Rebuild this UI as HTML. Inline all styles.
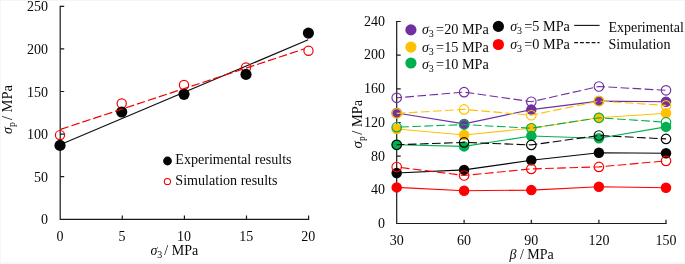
<!DOCTYPE html>
<html><head><meta charset="utf-8"><title>chart</title>
<style>
html,body{margin:0;padding:0;background:#fff;}
body{width:685px;height:264px;overflow:hidden;}
svg{display:block;}
text{font-family:"Liberation Serif","DejaVu Serif",serif;font-size:14px;fill:#0a0a0a;}
.i{font-style:italic;}
.sub{font-size:10px;}
.ax{stroke:#1a1a1a;stroke-width:1.2;fill:none;}
</style></head><body>
<svg width="685" height="264" viewBox="0 0 685 264">
<rect x="0" y="0" width="685" height="264" fill="#ffffff"/>
<path d="M0 0.5H685" stroke="#f5f5f5" stroke-width="1"/><path d="M0.5 0V264" stroke="#f7f7f7" stroke-width="1"/><path d="M684.5 0V264" stroke="#fafafa" stroke-width="1"/><path d="M0 263H685" stroke="#f7f7f7" stroke-width="2"/>

<g id="left">
<path class="ax" d="M60.2 5.7V219.3H309.2"/>
<path class="ax" d="M60.2 176.7h4M60.2 134.1h4M60.2 91.5h4M60.2 48.9h4M60.2 6.3h4M122.3 219.3v-3.8M184.4 219.3v-3.8M246.5 219.3v-3.8M308.6 219.3v-3.8"/>
<text x="48" y="224.4" text-anchor="end">0</text>
<text x="48" y="181.78" text-anchor="end">50</text>
<text x="48" y="139.16" text-anchor="end">100</text>
<text x="48" y="96.54" text-anchor="end">150</text>
<text x="48" y="53.92" text-anchor="end">200</text>
<text x="48" y="11.3" text-anchor="end">250</text>
<text x="59.9" y="240.9" text-anchor="middle">0</text>
<text x="122" y="240.9" text-anchor="middle">5</text>
<text x="184.1" y="240.9" text-anchor="middle">10</text>
<text x="246.2" y="240.9" text-anchor="middle">15</text>
<text x="308.3" y="240.9" text-anchor="middle">20</text>
<text y="254.5"><tspan class="i" x="150.6">σ</tspan><tspan class="sub" x="157.3" dy="3">3</tspan><tspan x="164.3" dy="-3">/ MPa</tspan></text>
<text transform="translate(11.6,134) rotate(-90)"><tspan class="i" x="0">σ</tspan><tspan class="sub" x="6.9" dy="3">p</tspan><tspan x="13.9" dy="-3" style="font-size:14.5px">/ MPa</tspan></text>
<path d="M60 144.8L308.2 39.8" stroke="#111" stroke-width="1.2" fill="none"/>
<circle cx="60" cy="135.1" r="4.6" fill="none" stroke="#f00000" stroke-width="1.2"/>
<circle cx="121.7" cy="103.5" r="4.6" fill="none" stroke="#f00000" stroke-width="1.2"/>
<circle cx="184" cy="85" r="4.6" fill="none" stroke="#f00000" stroke-width="1.2"/>
<circle cx="246" cy="67.4" r="4.6" fill="none" stroke="#f00000" stroke-width="1.2"/>
<circle cx="308.5" cy="50.8" r="4.6" fill="none" stroke="#f00000" stroke-width="1.2"/>
<circle cx="60" cy="145.4" r="5.6" fill="#050505"/>
<circle cx="121.7" cy="112" r="5.6" fill="#050505"/>
<circle cx="184" cy="94.3" r="5.6" fill="#050505"/>
<circle cx="246" cy="74.4" r="5.6" fill="#050505"/>
<circle cx="308.4" cy="33.1" r="5.6" fill="#050505"/>
<path d="M60.5 129.4L304.5 48.8" stroke="#f00000" stroke-width="1.2" stroke-dasharray="8.5 3" fill="none"/>
<circle cx="167.5" cy="161" r="4.4" fill="#050505"/>
<circle cx="167.4" cy="181.5" r="3.1" fill="none" stroke="#f00000" stroke-width="1.05"/>
<text x="175.3" y="164.1" style="font-size:14.1px">Experimental results</text>
<text x="175.3" y="185.2" style="font-size:14.1px">Simulation results</text>
</g>
<g id="right">
<path class="ax" d="M396.7 20.9V223.5H666.6"/>
<path class="ax" d="M396.7 189.83h4M396.7 156.17h4M396.7 122.5h4M396.7 88.83h4M396.7 55.17h4M396.7 21.5h4M464.1 223.5v-3.8M531.3 223.5v-3.8M598.9 223.5v-3.8M666 223.5v-3.8"/>
<text x="384.9" y="228.1" text-anchor="end">0</text>
<text x="384.9" y="194.35" text-anchor="end">40</text>
<text x="384.9" y="160.6" text-anchor="end">80</text>
<text x="384.9" y="126.85" text-anchor="end">120</text>
<text x="384.9" y="93.1" text-anchor="end">160</text>
<text x="384.9" y="59.35" text-anchor="end">200</text>
<text x="384.9" y="25.6" text-anchor="end">240</text>
<text x="396.7" y="244.7" text-anchor="middle">30</text>
<text x="464.1" y="244.7" text-anchor="middle">60</text>
<text x="531.3" y="244.7" text-anchor="middle">90</text>
<text x="598.9" y="244.7" text-anchor="middle">120</text>
<text x="666" y="244.7" text-anchor="middle">150</text>
<text x="509.5" y="258.8"><tspan class="i">β</tspan> / MPa</text>
<text transform="translate(362.3,148.6) rotate(-90)"><tspan class="i" x="0" style="font-size:15px">σ</tspan><tspan class="sub" x="7.6" dy="3" style="font-size:9.5px">p</tspan><tspan x="13.9" dy="-3" style="font-size:14.4px">/ MPa</tspan></text>
<path d="M396.7 113L464.1 123.9L531.3 109.6L598.9 101.1L666 101.7" stroke="#7030a0" stroke-width="1.1" fill="none"/>
<circle cx="396.7" cy="113" r="5.25" fill="#7030a0"/>
<circle cx="464.1" cy="123.9" r="5.25" fill="#7030a0"/>
<circle cx="531.3" cy="109.6" r="5.25" fill="#7030a0"/>
<circle cx="598.9" cy="101.1" r="5.25" fill="#7030a0"/>
<circle cx="666" cy="101.7" r="5.25" fill="#7030a0"/>
<path d="M396.7 129L464.1 135L531.3 128.2L598.9 117.8L666 113.3" stroke="#ffc000" stroke-width="1.1" fill="none"/>
<circle cx="396.7" cy="129" r="5.25" fill="#ffc000"/>
<circle cx="464.1" cy="135" r="5.25" fill="#ffc000"/>
<circle cx="531.3" cy="128.2" r="5.25" fill="#ffc000"/>
<circle cx="598.9" cy="117.8" r="5.25" fill="#ffc000"/>
<circle cx="666" cy="113.3" r="5.25" fill="#ffc000"/>
<path d="M396.7 144.8L464.1 146.4L531.3 136L598.9 138.3L666 126.9" stroke="#00b050" stroke-width="1.1" fill="none"/>
<circle cx="396.7" cy="144.8" r="5.25" fill="#00b050"/>
<circle cx="464.1" cy="146.4" r="5.25" fill="#00b050"/>
<circle cx="531.3" cy="136" r="5.25" fill="#00b050"/>
<circle cx="598.9" cy="138.3" r="5.25" fill="#00b050"/>
<circle cx="666" cy="126.9" r="5.25" fill="#00b050"/>
<path d="M396.7 173L464.1 169.9L531.3 160.3L598.9 152.7L666 153.3" stroke="#050505" stroke-width="1.1" fill="none"/>
<circle cx="396.7" cy="173" r="5.25" fill="#050505"/>
<circle cx="464.1" cy="169.9" r="5.25" fill="#050505"/>
<circle cx="531.3" cy="160.3" r="5.25" fill="#050505"/>
<circle cx="598.9" cy="152.7" r="5.25" fill="#050505"/>
<circle cx="666" cy="153.3" r="5.25" fill="#050505"/>
<path d="M396.7 187.4L464.1 190.8L531.3 190.1L598.9 186.8L666 187.8" stroke="#ff0000" stroke-width="1.1" fill="none"/>
<circle cx="396.7" cy="187.4" r="5.25" fill="#ff0000"/>
<circle cx="464.1" cy="190.8" r="5.25" fill="#ff0000"/>
<circle cx="531.3" cy="190.1" r="5.25" fill="#ff0000"/>
<circle cx="598.9" cy="186.8" r="5.25" fill="#ff0000"/>
<circle cx="666" cy="187.8" r="5.25" fill="#ff0000"/>
<path d="M396.7 97.8L464.1 92.15L531.3 101.7L598.9 86.5L666 90.3" stroke="#7030a0" stroke-width="1.1" stroke-dasharray="8.7 3.4" stroke-dashoffset="3.5" fill="none"/>
<circle cx="396.7" cy="97.8" r="4.75" fill="none" stroke="#7030a0" stroke-width="1.15"/>
<circle cx="464.1" cy="92.15" r="4.75" fill="none" stroke="#7030a0" stroke-width="1.15"/>
<circle cx="531.3" cy="101.7" r="4.75" fill="none" stroke="#7030a0" stroke-width="1.15"/>
<circle cx="598.9" cy="86.5" r="4.75" fill="none" stroke="#7030a0" stroke-width="1.15"/>
<circle cx="666" cy="90.3" r="4.75" fill="none" stroke="#7030a0" stroke-width="1.15"/>
<path d="M396.7 113.4L464.1 109.4L531.3 115.2L598.9 101.1L666 105.4" stroke="#ffc000" stroke-width="1.1" stroke-dasharray="8.7 3.4" stroke-dashoffset="0" fill="none"/>
<circle cx="396.7" cy="113.4" r="4.75" fill="none" stroke="#ffc000" stroke-width="1.15"/>
<circle cx="464.1" cy="109.4" r="4.75" fill="none" stroke="#ffc000" stroke-width="1.15"/>
<circle cx="531.3" cy="115.2" r="4.75" fill="none" stroke="#ffc000" stroke-width="1.15"/>
<circle cx="598.9" cy="101.1" r="4.75" fill="none" stroke="#ffc000" stroke-width="1.15"/>
<circle cx="666" cy="105.4" r="4.75" fill="none" stroke="#ffc000" stroke-width="1.15"/>
<path d="M396.7 127.15L464.1 124.6L531.3 128.2L598.9 117.8L666 122.2" stroke="#00b050" stroke-width="1.1" stroke-dasharray="8.7 3.4" stroke-dashoffset="-3.5" fill="none"/>
<circle cx="396.7" cy="127.15" r="4.75" fill="none" stroke="#00b050" stroke-width="1.15"/>
<circle cx="464.1" cy="124.6" r="4.75" fill="none" stroke="#00b050" stroke-width="1.15"/>
<circle cx="531.3" cy="128.2" r="4.75" fill="none" stroke="#00b050" stroke-width="1.15"/>
<circle cx="598.9" cy="117.8" r="4.75" fill="none" stroke="#00b050" stroke-width="1.15"/>
<circle cx="666" cy="122.2" r="4.75" fill="none" stroke="#00b050" stroke-width="1.15"/>
<path d="M396.7 144.8L464.1 142.4L531.3 144.9L598.9 135.5L666 138.9" stroke="#050505" stroke-width="1.1" stroke-dasharray="8.7 3.4" stroke-dashoffset="1" fill="none"/>
<circle cx="396.7" cy="144.8" r="4.75" fill="none" stroke="#050505" stroke-width="1.15"/>
<circle cx="464.1" cy="142.4" r="4.75" fill="none" stroke="#050505" stroke-width="1.15"/>
<circle cx="531.3" cy="144.9" r="4.75" fill="none" stroke="#050505" stroke-width="1.15"/>
<circle cx="598.9" cy="135.5" r="4.75" fill="none" stroke="#050505" stroke-width="1.15"/>
<circle cx="666" cy="138.9" r="4.75" fill="none" stroke="#050505" stroke-width="1.15"/>
<path d="M396.7 167L464.1 175.5L531.3 168.9L598.9 166.9L666 160.9" stroke="#ff0000" stroke-width="1.1" stroke-dasharray="8.7 3.4" stroke-dashoffset="-4.1" fill="none"/>
<circle cx="396.7" cy="167" r="4.75" fill="none" stroke="#ff0000" stroke-width="1.15"/>
<circle cx="464.1" cy="175.5" r="4.75" fill="none" stroke="#ff0000" stroke-width="1.15"/>
<circle cx="531.3" cy="168.9" r="4.75" fill="none" stroke="#ff0000" stroke-width="1.15"/>
<circle cx="598.9" cy="166.9" r="4.75" fill="none" stroke="#ff0000" stroke-width="1.15"/>
<circle cx="666" cy="160.9" r="4.75" fill="none" stroke="#ff0000" stroke-width="1.15"/>
<circle cx="410.9" cy="29.9" r="5.6" fill="#7030a0"/>
<circle cx="410.9" cy="47.1" r="5.6" fill="#ffc000"/>
<circle cx="410.9" cy="63" r="5.6" fill="#00b050"/>
<circle cx="498.4" cy="26.4" r="5.6" fill="#050505"/>
<circle cx="498.4" cy="44.5" r="5.6" fill="#ff0000"/>
<text y="34.3"><tspan class="i" x="422.1">σ</tspan><tspan class="sub" x="428.8" dy="3">3</tspan><tspan x="436.1" dy="-3" style="font-size:14.25px">=20 MPa</tspan></text>
<text y="51.8"><tspan class="i" x="422.1">σ</tspan><tspan class="sub" x="428.8" dy="3">3</tspan><tspan x="436.1" dy="-3" style="font-size:14.25px">=15 MPa</tspan></text>
<text y="69.1"><tspan class="i" x="422.1">σ</tspan><tspan class="sub" x="428.8" dy="3">3</tspan><tspan x="436.1" dy="-3" style="font-size:14.25px">=10 MPa</tspan></text>
<text y="31.4"><tspan class="i" x="510.3">σ</tspan><tspan class="sub" x="517" dy="3">3</tspan><tspan x="524.3" dy="-3" style="font-size:14.25px">=5 MPa</tspan></text>
<text y="49.1"><tspan class="i" x="510.3">σ</tspan><tspan class="sub" x="517" dy="3">3</tspan><tspan x="524.3" dy="-3" style="font-size:14.25px">=0 MPa</tspan></text>
<path d="M574.2 25.4H599.6" stroke="#111" stroke-width="1.1" fill="none"/>
<path d="M574.2 42.6H599.6" stroke="#111" stroke-width="1.1" stroke-dasharray="3.9 1.9" fill="none"/>
<text x="608.4" y="31.7" style="font-size:14px">Experimental</text>
<text x="608.4" y="49.2" style="font-size:14.15px">Simulation</text>
</g>
</svg></body></html>
